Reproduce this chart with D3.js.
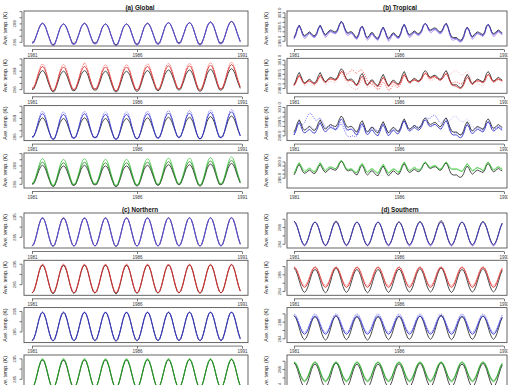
<!DOCTYPE html>
<html>
<head>
<meta charset="utf-8">
<script src="https://cdn.jsdelivr.net/npm/d3@7"></script>
<style>
  body { margin: 0; background: #fff; }
  text { font-family: "Liberation Sans", Arial, sans-serif; }
</style>
</head>
<body>
<svg id="fig" width="508" height="385"></svg>
<script>
// monthly series, Jan 1981 .. Dec 1990
const years = d3.range(120).map(i => 1981 + i / 12);
const xTickYears = [1981, 1986, 1991];
const yTitle = "Ave. temp. (K)";

// ---------- (a) Global ----------
const globalYlim = [285.4, 291.1];
const globalTicks = [286, 287, 288, 289, 290, 291];
const globalLabels = [286, 289];

const globalObs = [
  286.0,286.1,286.7,287.5,288.3,288.9,289.1,288.9,288.3,287.4,286.6,285.9,
  285.6,285.8,286.5,287.4,288.3,288.8,289.0,288.8,288.2,287.4,286.6,285.9,
  285.8,286.0,286.7,287.5,288.4,288.9,289.1,288.9,288.3,287.4,286.6,286.0,
  285.9,286.0,286.6,287.4,288.3,288.8,289.0,288.8,288.2,287.3,286.5,285.8,
  285.6,285.8,286.5,287.4,288.3,288.8,289.0,288.8,288.3,287.4,286.6,285.9,
  285.7,285.9,286.6,287.5,288.4,288.9,289.1,288.9,288.3,287.5,286.7,286.0,
  285.8,286.0,286.7,287.6,288.5,289.0,289.2,289.0,288.4,287.6,286.8,286.1,
  285.9,286.1,286.8,287.6,288.5,289.0,289.2,289.0,288.4,287.5,286.6,285.9,
  285.7,285.9,286.6,287.5,288.5,289.1,289.3,289.1,288.5,287.6,286.7,286.0,
  285.9,286.1,286.8,287.7,288.6,289.2,289.4,289.2,288.6,287.7,286.9,286.2];
const globalBlue = [
  285.9,286.0,286.7,287.5,288.3,288.9,289.1,288.9,288.3,287.4,286.6,285.8,
  285.5,285.7,286.5,287.4,288.3,288.8,289.0,288.8,288.2,287.4,286.6,285.8,
  285.7,285.9,286.7,287.5,288.4,288.9,289.1,288.9,288.3,287.4,286.6,285.9,
  285.8,285.9,286.6,287.4,288.3,288.8,289.0,288.8,288.2,287.3,286.5,285.7,
  285.5,285.7,286.5,287.4,288.3,288.8,289.0,288.8,288.3,287.4,286.6,285.8,
  285.6,285.8,286.6,287.5,288.4,288.9,289.1,288.9,288.3,287.5,286.7,285.9,
  285.7,285.9,286.7,287.6,288.5,289.0,289.2,289.0,288.4,287.6,286.8,286.0,
  285.8,286.0,286.8,287.6,288.5,289.0,289.2,289.0,288.4,287.5,286.6,285.8,
  285.6,285.8,286.6,287.5,288.5,289.1,289.3,289.1,288.5,287.6,286.7,285.9,
  285.8,286.0,286.8,287.7,288.6,289.2,289.4,289.2,288.6,287.7,286.9,286.1];
const globalPurple = [
  285.8,285.9,286.6,287.5,288.3,288.9,289.1,288.9,288.3,287.4,286.5,285.7,
  285.4,285.6,286.4,287.4,288.3,288.8,289.0,288.8,288.2,287.4,286.5,285.7,
  285.6,285.8,286.6,287.5,288.4,288.9,289.1,288.9,288.3,287.4,286.5,285.8,
  285.7,285.8,286.5,287.4,288.3,288.8,289.0,288.8,288.2,287.3,286.4,285.6,
  285.4,285.6,286.4,287.4,288.3,288.8,289.0,288.8,288.3,287.4,286.5,285.7,
  285.5,285.7,286.5,287.5,288.4,288.9,289.1,288.9,288.3,287.5,286.6,285.8,
  285.6,285.8,286.6,287.6,288.5,289.0,289.2,289.0,288.4,287.6,286.7,285.9,
  285.7,285.9,286.7,287.6,288.5,289.0,289.2,289.0,288.4,287.5,286.5,285.7,
  285.5,285.7,286.5,287.5,288.5,289.1,289.3,289.1,288.5,287.6,286.6,285.8,
  285.7,285.9,286.7,287.7,288.6,289.2,289.4,289.2,288.6,287.7,286.8,286.0];
const globalRed = [
  286.2,286.3,287.0,287.9,288.8,289.5,289.8,289.5,288.8,287.8,286.9,286.1,
  285.8,286.0,286.8,287.8,288.8,289.4,289.7,289.4,288.7,287.8,286.9,286.1,
  286.0,286.2,287.0,287.9,288.9,289.5,289.8,289.5,288.8,287.8,286.9,286.2,
  286.1,286.2,286.9,287.8,288.8,289.4,289.7,289.4,288.7,287.7,286.8,286.0,
  285.8,286.0,286.8,287.8,288.8,289.4,289.7,289.4,288.8,287.8,286.9,286.1,
  285.9,286.1,286.9,287.9,288.9,289.5,289.8,289.5,288.8,287.9,287.0,286.2,
  286.0,286.2,287.0,288.0,289.0,289.6,289.9,289.6,288.9,288.0,287.1,286.3,
  286.1,286.3,287.1,288.0,289.0,289.6,289.9,289.6,288.9,287.9,286.9,286.1,
  285.9,286.1,286.9,287.9,289.0,289.7,290.0,289.7,289.0,288.0,287.0,286.2,
  286.1,286.3,287.1,288.1,289.1,289.8,290.1,289.8,289.1,288.1,287.2,286.4];
const globalRedLt = [
  286.2,286.4,287.1,288.1,289.1,289.9,290.2,289.9,289.1,288.0,287.0,286.2,
  285.8,286.1,286.9,288.0,289.1,289.8,290.1,289.8,289.0,288.0,287.0,286.2,
  286.0,286.3,287.1,288.1,289.2,289.9,290.4,289.9,289.1,288.0,287.0,286.3,
  286.1,286.3,287.0,288.0,289.1,289.8,290.1,289.8,289.0,287.9,286.9,286.1,
  285.8,286.1,286.9,288.0,289.1,289.8,290.1,289.8,289.1,288.0,287.0,286.2,
  285.9,286.2,287.0,288.1,289.2,289.9,290.2,289.9,289.1,288.1,287.1,286.3,
  286.0,286.3,287.1,288.2,289.3,290.0,290.3,290.0,289.2,288.2,287.2,286.4,
  286.1,286.4,287.2,288.2,289.3,290.0,290.3,290.0,289.2,288.1,287.0,286.2,
  285.9,286.2,287.0,288.1,289.3,290.1,290.4,290.1,289.3,288.2,287.1,286.3,
  286.1,286.4,287.2,288.3,289.4,290.2,290.5,290.2,289.4,288.3,287.3,286.5];
const globalBlu = [
  286.0,286.1,286.8,287.8,288.8,289.5,289.8,289.5,288.8,287.7,286.7,285.9,
  285.6,285.8,286.6,287.7,288.8,289.4,289.7,289.4,288.7,287.7,286.7,285.9,
  285.8,286.0,286.8,287.8,288.9,289.5,289.8,289.5,288.8,287.7,286.7,286.0,
  285.9,286.0,286.7,287.7,288.8,289.4,289.7,289.4,288.7,287.6,286.6,285.8,
  285.6,285.8,286.6,287.7,288.8,289.4,289.7,289.4,288.8,287.7,286.7,285.9,
  285.7,285.9,286.7,287.8,288.9,289.5,289.8,289.5,288.8,287.8,286.8,286.0,
  285.8,286.0,286.8,287.9,289.0,289.6,289.9,289.6,288.9,287.9,286.9,286.1,
  285.9,286.1,286.9,287.9,289.0,289.6,289.9,289.6,288.9,287.8,286.7,285.9,
  285.7,285.9,286.7,287.8,289.0,289.7,290.0,289.7,289.0,287.9,286.8,286.0,
  285.9,286.1,286.9,288.0,289.1,289.8,290.1,289.8,289.1,288.0,287.0,286.2];
const globalBluLt = [
  285.9,286.0,286.8,287.9,289.0,289.9,290.2,289.9,289.0,287.8,286.7,285.8,
  285.5,285.7,286.6,287.8,289.0,289.8,290.1,289.8,288.9,287.8,286.7,285.8,
  285.7,285.9,286.8,287.9,289.1,289.9,290.2,289.9,289.0,287.8,286.7,285.9,
  285.8,285.9,286.7,287.8,289.0,289.8,290.1,289.8,288.9,287.7,286.6,285.7,
  285.5,285.7,286.6,287.8,289.0,289.8,290.1,289.8,289.0,287.8,286.7,285.8,
  285.6,285.8,286.7,287.9,289.1,289.9,290.2,289.9,289.0,287.9,286.8,285.9,
  285.7,285.9,286.8,288.0,289.2,290.0,290.3,290.0,289.1,288.0,286.9,286.0,
  285.8,286.0,286.9,288.0,289.2,290.0,290.3,290.0,289.1,287.9,286.7,285.8,
  285.6,285.8,286.7,287.9,289.2,290.1,290.4,290.1,289.2,288.0,286.8,285.9,
  285.8,286.0,286.9,288.1,289.3,290.2,290.5,290.2,289.3,288.1,287.0,286.1];
const globalGrn = [
  286.1,286.2,286.9,287.8,288.7,289.4,289.6,289.4,288.7,287.7,286.8,286.0,
  285.7,285.9,286.7,287.7,288.7,289.3,289.5,289.3,288.6,287.7,286.8,286.0,
  285.9,286.1,286.9,287.8,288.8,289.4,289.6,289.4,288.7,287.7,286.8,286.1,
  286.0,286.1,286.8,287.7,288.7,289.3,289.5,289.3,288.6,287.6,286.7,285.9,
  285.7,285.9,286.7,287.7,288.7,289.3,289.5,289.3,288.7,287.7,286.8,286.0,
  285.8,286.0,286.8,287.8,288.8,289.4,289.6,289.4,288.7,287.8,286.9,286.1,
  285.9,286.1,286.9,287.9,288.9,289.5,289.7,289.5,288.8,287.9,287.0,286.2,
  286.0,286.2,287.0,287.9,288.9,289.5,289.7,289.5,288.8,287.8,286.8,286.0,
  285.8,286.0,286.8,287.8,288.9,289.6,289.8,289.6,288.9,287.9,286.9,286.1,
  286.0,286.2,287.0,288.0,289.0,289.7,289.9,289.7,289.0,288.0,287.1,286.3];
const globalGrnLt = [
  286.2,286.4,287.1,288.1,289.1,289.9,290.2,289.9,289.1,288.0,287.0,286.2,
  285.8,286.1,286.9,288.0,289.1,289.8,290.1,289.8,289.0,288.0,287.0,286.2,
  286.0,286.3,287.1,288.1,289.2,289.9,290.2,289.9,289.1,288.0,287.0,286.3,
  286.1,286.3,287.0,288.0,289.1,289.8,290.1,289.8,289.0,287.9,286.9,286.1,
  285.8,286.1,286.9,288.0,289.1,289.8,290.1,289.8,289.1,288.0,287.0,286.2,
  285.9,286.2,287.0,288.1,289.2,289.9,290.2,289.9,289.1,288.1,287.1,286.3,
  286.0,286.3,287.1,288.2,289.3,290.0,290.3,290.0,289.2,288.2,287.2,286.4,
  286.1,286.4,287.2,288.2,289.3,290.0,290.3,290.0,289.2,288.1,287.0,286.2,
  285.9,286.2,287.0,288.1,289.3,290.1,290.4,290.1,289.3,288.2,287.1,286.3,
  286.1,286.4,287.2,288.3,289.4,290.2,290.5,290.2,289.4,288.3,287.3,286.5];

// ---------- (b) Tropical ----------
const tropYlim = [297.5, 301.2];
const tropTicks = [298.0, 298.5, 299.0, 299.5, 300.0, 300.5, 301.0];
const tropLabels = [298.0, 299.5, 301.0];
const tropYlim4 = [296.8, 301.1];
const tropTicks4 = [298.0, 298.5, 299.0, 299.5, 300.0];
const tropLabels4 = [298.0, 300.0];

const tropObs = [
  298.4,298.8,299.4,299.7,299.3,298.8,298.6,298.7,298.9,299.0,298.8,298.6,
  298.6,298.9,299.4,299.7,299.3,298.9,298.7,298.9,299.1,299.2,299.1,299.0,
  299.0,299.3,299.8,300.1,299.9,299.4,299.0,298.9,299.0,299.0,298.8,298.5,
  298.4,298.8,299.4,299.6,299.2,298.6,298.4,298.6,298.9,298.9,298.6,298.4,
  298.3,298.7,299.2,299.5,299.1,298.6,298.3,298.5,298.8,298.9,298.7,298.5,
  298.5,298.9,299.5,299.8,299.4,298.9,298.7,298.8,299.0,299.1,298.9,298.8,
  298.9,299.2,299.7,299.9,299.7,299.3,299.2,299.3,299.4,299.4,299.2,299.0,
  299.0,299.3,299.7,299.9,299.5,298.9,298.5,298.4,298.4,298.4,298.2,298.1,
  298.2,298.6,299.2,299.5,299.2,298.7,298.5,298.7,298.9,299.0,298.9,298.8,
  298.7,299.0,299.6,299.8,299.5,299.0,298.8,298.9,299.1,299.2,299.0,298.9];
const tropBlue = [
  298.3,298.7,299.4,299.7,299.3,298.7,298.5,298.6,298.8,298.9,298.7,298.5,
  298.5,298.8,299.4,299.7,299.3,298.8,298.6,298.8,299.0,299.1,299.0,298.9,
  298.9,299.2,299.8,300.1,299.9,299.3,298.9,298.8,298.9,298.9,298.7,298.4,
  298.3,298.7,299.4,299.6,299.2,298.5,298.3,298.5,298.8,298.8,298.5,298.3,
  298.2,298.6,299.2,299.5,299.1,298.5,298.2,298.4,298.7,298.8,298.6,298.4,
  298.4,298.8,299.5,299.8,299.4,298.8,298.6,298.7,298.9,299.0,298.8,298.7,
  298.8,299.1,299.7,299.9,299.7,299.2,299.1,299.2,299.3,299.3,299.1,298.9,
  298.9,299.2,299.7,299.9,299.5,298.8,298.4,298.3,298.3,298.3,298.1,298.0,
  298.1,298.5,299.2,299.5,299.2,298.6,298.4,298.6,298.8,298.9,298.8,298.7,
  298.6,298.9,299.6,299.8,299.5,298.9,298.7,298.8,299.0,299.1,298.9,298.8];
const tropPurple = [
  298.2,298.6,299.3,299.6,299.2,298.6,298.3,298.4,298.7,298.8,298.6,298.4,
  298.4,298.7,299.3,299.6,299.2,298.7,298.4,298.6,298.9,299.0,298.9,298.8,
  298.8,299.1,299.7,300.0,299.8,299.2,298.7,298.6,298.8,298.8,298.6,298.3,
  298.2,298.6,299.3,299.5,299.1,298.4,298.1,298.3,298.7,298.7,298.4,298.2,
  298.1,298.5,299.1,299.4,299.0,298.4,298.0,298.2,298.6,298.7,298.5,298.3,
  298.3,298.7,299.4,299.7,299.3,298.7,298.4,298.5,298.8,298.9,298.7,298.6,
  298.7,299.0,299.6,299.8,299.6,299.1,298.9,299.0,299.2,299.2,299.0,298.8,
  298.8,299.1,299.6,299.8,299.4,298.7,298.2,298.1,298.2,298.2,298.0,297.9,
  298.0,298.4,299.1,299.4,299.1,298.5,298.2,298.4,298.7,298.8,298.7,298.6,
  298.5,298.8,299.5,299.7,299.4,298.8,298.5,298.6,298.9,299.0,298.8,298.7];
const tropRed = [
  298.3,298.6,299.1,299.4,299.1,298.7,298.5,298.6,298.8,298.8,298.7,298.5,
  298.5,298.7,299.1,299.4,299.1,298.8,298.6,298.8,299.0,299.0,299.0,298.9,
  298.9,299.1,299.5,299.8,299.7,299.3,298.9,298.8,298.9,298.8,298.7,298.4,
  298.3,298.6,299.1,299.3,299.0,298.5,298.3,298.5,298.8,298.7,298.5,298.3,
  298.2,298.5,298.9,299.2,298.9,298.5,298.2,298.4,298.7,298.7,298.6,298.4,
  298.4,298.7,299.2,299.5,299.2,298.8,298.6,298.7,298.9,298.9,298.8,298.7,
  298.8,299.0,299.4,299.6,299.5,299.2,299.1,299.2,299.3,299.2,299.1,298.9,
  298.9,299.1,299.4,299.6,299.3,298.8,298.4,298.3,298.3,298.2,298.1,298.0,
  298.1,298.4,298.9,299.2,299.0,298.6,298.4,298.6,298.8,298.8,298.8,298.7,
  298.6,298.8,299.3,299.5,299.3,298.9,298.7,298.8,299.0,299.0,298.9,298.8];
const tropRedDot = [
  298.4,298.7,299.1,299.4,299.2,298.8,298.5,298.6,298.8,298.8,298.7,298.5,
  298.5,298.7,299.1,299.4,299.2,298.9,298.7,298.8,299.0,299.1,299.0,298.9,
  299.0,299.2,299.5,299.8,299.9,299.7,299.5,299.6,299.8,300.0,299.9,299.7,
  299.6,299.8,300.0,299.9,299.6,299.2,298.8,298.6,298.5,298.4,298.2,298.0,
  297.9,298.0,298.4,298.7,298.5,298.1,297.8,297.9,298.2,298.4,298.3,298.1,
  298.2,298.5,299.0,299.4,299.2,298.8,298.6,298.7,298.9,299.0,298.9,298.8,
  298.9,299.1,299.5,299.7,299.5,299.1,299.0,299.1,299.2,299.2,299.0,298.9,
  298.9,299.1,299.4,299.6,299.3,298.9,298.6,298.6,298.7,298.7,298.6,298.5,
  298.5,298.8,299.2,299.4,299.2,298.8,298.6,298.7,298.8,298.9,298.8,298.7,
  298.7,298.9,299.3,299.5,299.3,298.9,298.7,298.8,298.9,299.0,298.9,298.8];
const tropPinkDot = [
  298.3,298.6,299.0,299.3,299.0,298.6,298.3,298.4,298.6,298.7,298.5,298.3,
  298.3,298.5,298.9,299.2,299.0,298.6,298.4,298.5,298.7,298.8,298.7,298.6,
  298.7,299.0,299.4,299.6,299.4,299.0,298.7,298.5,298.3,298.1,298.0,297.9,
  297.9,298.2,298.7,299.0,298.8,298.4,298.1,298.2,298.4,298.5,298.3,298.1,
  298.0,298.3,298.8,299.1,298.9,298.5,298.2,298.3,298.5,298.6,298.5,298.3,
  298.3,298.6,299.1,299.4,299.2,298.8,298.5,298.6,298.8,298.9,298.8,298.7,
  298.8,299.0,299.4,299.6,299.4,299.0,298.8,298.9,299.0,299.1,299.0,298.9,
  299.0,299.3,299.6,299.8,299.6,299.5,299.6,299.8,299.9,299.9,299.7,299.5,
  299.4,299.5,299.7,299.8,299.5,299.1,298.8,298.7,298.6,298.6,298.4,298.3,
  298.3,298.6,299.1,299.4,299.2,298.8,298.6,298.7,298.8,298.9,298.8,298.6];
const tropBlu = [
  298.1,298.5,299.1,299.4,299.0,298.5,298.3,298.4,298.6,298.7,298.5,298.3,
  298.3,298.6,299.1,299.4,299.0,298.6,298.4,298.6,298.8,298.9,298.8,298.7,
  298.7,299.0,299.5,299.8,299.6,299.1,298.7,298.6,298.7,298.7,298.5,298.2,
  298.1,298.5,299.1,299.3,298.9,298.3,298.1,298.3,298.6,298.6,298.3,298.1,
  298.0,298.4,298.9,299.2,298.8,298.3,298.0,298.2,298.5,298.6,298.4,298.2,
  298.3,298.7,299.3,299.6,299.2,298.7,298.5,298.6,298.8,298.9,298.7,298.6,
  298.7,299.0,299.5,299.7,299.5,299.1,299.0,299.1,299.2,299.2,299.0,298.8,
  298.7,299.0,299.4,299.6,299.2,298.6,298.2,298.1,298.1,298.1,297.9,297.8,
  297.9,298.3,298.9,299.2,298.9,298.4,298.2,298.4,298.6,298.7,298.6,298.5,
  298.4,298.7,299.3,299.5,299.2,298.7,298.5,298.6,298.8,298.9,298.7,298.6];
const tropBluDot = [
  298.1,298.5,299.1,299.5,299.3,299.2,299.4,299.8,300.2,300.4,300.3,300.0,
  299.7,299.6,299.8,299.9,299.6,299.2,298.9,298.9,299.0,299.1,299.0,298.8,
  298.6,298.8,299.1,299.3,299.0,298.5,298.1,297.9,297.9,298.0,298.0,297.9,
  298.0,298.3,298.8,299.1,298.9,298.5,298.3,298.5,298.8,298.9,298.8,298.6,
  298.5,298.7,299.1,299.4,299.1,298.6,298.3,298.4,298.6,298.7,298.6,298.5,
  298.5,298.8,299.3,299.6,299.3,298.9,298.7,298.8,299.0,299.1,299.0,298.9,
  299.0,299.3,299.7,299.9,299.9,299.8,299.9,300.1,300.2,300.1,299.8,299.5,
  299.3,299.5,299.8,299.9,299.5,299.0,298.6,298.4,298.3,298.3,298.2,298.1,
  298.1,298.4,298.9,299.3,299.1,298.7,298.5,298.6,298.8,298.9,298.8,298.7,
  298.6,298.8,299.3,299.5,299.3,298.9,298.7,298.8,298.9,299.0,298.9,298.7];
const tropBluLt = [
  298.3,298.7,299.3,299.6,299.3,298.9,298.7,298.8,299.0,299.1,299.0,298.8,
  298.7,298.9,299.3,299.6,299.3,298.9,298.7,298.8,299.0,299.0,298.9,298.7,
  298.6,298.8,299.2,299.5,299.2,298.8,298.6,298.7,298.8,298.9,298.7,298.5,
  298.4,298.7,299.1,299.4,299.1,298.7,298.5,298.6,298.8,298.8,298.7,298.5,
  298.4,298.7,299.1,299.4,299.1,298.7,298.5,298.6,298.8,298.9,298.8,298.6,
  298.6,298.9,299.3,299.6,299.3,298.9,298.7,298.8,299.0,299.1,299.0,298.9,
  298.9,299.1,299.5,299.7,299.5,299.1,298.9,299.0,299.1,299.2,299.0,298.9,
  299.0,299.2,299.5,299.7,299.6,299.6,299.8,300.0,300.1,300.0,299.8,299.6,
  299.5,299.5,299.7,299.8,299.6,299.2,298.9,298.8,298.8,298.8,298.7,298.6,
  298.6,298.8,299.2,299.5,299.3,298.9,298.7,298.8,298.9,299.0,298.9,298.7];
const tropGrn = [
  298.6,299.0,299.6,299.9,299.5,299.0,298.8,298.9,299.1,299.2,299.0,298.8,
  298.8,299.1,299.6,299.9,299.5,299.1,298.9,299.1,299.3,299.4,299.3,299.2,
  299.2,299.5,300.0,300.2,300.0,299.5,299.1,299.0,299.1,299.1,298.9,298.7,
  298.7,299.1,299.6,299.8,299.4,298.9,298.7,298.9,299.1,299.1,298.9,298.7,
  298.6,299.0,299.4,299.7,299.3,298.9,298.6,298.8,299.0,299.1,299.0,298.8,
  298.7,299.1,299.7,300.0,299.6,299.1,298.9,299.0,299.2,299.3,299.1,299.0,
  299.0,299.3,299.8,300.0,299.8,299.4,299.3,299.4,299.5,299.5,299.3,299.1,
  299.1,299.4,299.8,300.0,299.7,299.3,299.1,299.1,299.1,299.1,299.0,298.9,
  298.8,299.1,299.5,299.8,299.5,299.1,298.9,299.0,299.2,299.3,299.2,299.1,
  298.9,299.2,299.8,300.0,299.7,299.2,299.0,299.1,299.3,299.4,299.2,299.1];
const tropGrnLt = [
  298.7,299.1,299.6,299.9,299.6,299.2,299.0,299.0,299.2,299.3,299.1,298.9,
  298.9,299.2,299.6,299.9,299.6,299.2,299.0,299.2,299.4,299.4,299.3,299.2,
  299.2,299.4,299.9,300.1,299.9,299.5,299.2,299.1,299.2,299.2,299.0,298.8,
  298.8,299.1,299.6,299.8,299.5,299.0,298.8,299.0,299.2,299.2,299.0,298.8,
  298.7,299.0,299.4,299.7,299.4,299.0,298.7,298.9,299.1,299.2,299.1,298.9,
  298.8,299.2,299.7,299.9,299.6,299.2,299.0,299.1,299.3,299.4,299.2,299.1,
  299.1,299.3,299.7,299.9,299.8,299.5,299.4,299.5,299.6,299.6,299.4,299.2,
  299.2,299.4,299.8,299.9,299.7,299.4,299.2,299.2,299.2,299.2,299.1,299.0,
  298.9,299.1,299.5,299.7,299.5,299.2,299.0,299.1,299.3,299.3,299.2,299.1,
  299.0,299.2,299.7,299.9,299.7,299.3,299.1,299.2,299.4,299.4,299.3,299.2];

// ---------- (c) Northern ----------
const northYlim = [279.8, 296.9];
const northTicks = [285, 290, 295];
const northLabels = [285, 295];

const northObs = [
  281.0,281.7,284.2,287.6,291.1,293.6,294.5,293.6,291.1,287.6,284.2,281.5,
  280.5,281.4,284.0,287.5,291.0,293.5,294.4,293.5,291.0,287.5,284.1,281.5,
  280.7,281.6,284.2,287.6,291.1,293.6,294.5,293.6,291.1,287.6,284.2,281.6,
  280.8,281.7,284.3,287.7,291.1,293.6,294.5,293.6,291.1,287.6,284.2,281.5,
  280.4,281.3,284.0,287.5,291.1,293.6,294.5,293.6,291.1,287.6,284.2,281.6,
  280.7,281.6,284.2,287.7,291.2,293.7,294.6,293.7,291.2,287.7,284.3,281.7,
  280.8,281.7,284.3,287.8,291.3,293.7,294.6,293.7,291.2,287.7,284.3,281.7,
  280.9,281.8,284.4,287.8,291.3,293.8,294.7,293.8,291.3,287.7,284.2,281.6,
  280.7,281.6,284.3,287.8,291.3,293.8,294.7,293.8,291.3,287.8,284.4,281.8,
  280.9,281.8,284.5,288.0,291.4,293.9,294.8,293.9,291.4,287.9,284.5,281.9];
const northBlue = [
  280.7,281.6,284.2,287.6,291.1,293.7,294.6,293.7,291.1,287.6,284.2,281.6,
  280.7,281.6,284.2,287.6,291.1,293.7,294.6,293.7,291.1,287.6,284.2,281.6,
  280.7,281.6,284.2,287.6,291.1,293.7,294.6,293.7,291.1,287.6,284.2,281.6,
  280.7,281.6,284.2,287.6,291.1,293.7,294.6,293.7,291.1,287.6,284.2,281.6,
  280.7,281.6,284.2,287.6,291.1,293.7,294.6,293.7,291.1,287.6,284.2,281.6,
  280.7,281.6,284.2,287.6,291.1,293.7,294.6,293.7,291.1,287.6,284.2,281.6,
  280.7,281.6,284.2,287.6,291.1,293.7,294.6,293.7,291.1,287.6,284.2,281.6,
  280.7,281.6,284.2,287.6,291.1,293.7,294.6,293.7,291.1,287.6,284.2,281.6,
  280.7,281.6,284.2,287.6,291.1,293.7,294.6,293.7,291.1,287.6,284.2,281.6,
  280.7,281.6,284.2,287.6,291.1,293.7,294.6,293.7,291.1,287.6,284.2,281.6];
const northPurple = [
  280.6,281.5,284.2,287.6,291.1,293.8,294.9,293.8,291.1,287.6,284.2,281.5,
  280.6,281.5,284.2,287.6,291.1,293.8,294.8,293.8,291.1,287.6,284.2,281.5,
  280.6,281.5,284.2,287.6,291.1,293.8,294.8,293.8,291.1,287.6,284.2,281.5,
  280.6,281.5,284.2,287.6,291.1,293.8,294.8,293.8,291.1,287.6,284.2,281.5,
  280.6,281.5,284.2,287.6,291.1,293.8,294.8,293.8,291.1,287.6,284.2,281.5,
  280.6,281.5,284.2,287.6,291.1,293.8,294.8,293.8,291.1,287.6,284.2,281.5,
  280.6,281.5,284.2,287.6,291.1,293.8,294.8,293.8,291.1,287.6,284.2,281.5,
  280.6,281.5,284.2,287.6,291.1,293.8,294.8,293.8,291.1,287.6,284.2,281.5,
  280.6,281.5,284.2,287.6,291.1,293.8,294.8,293.8,291.1,287.6,284.2,281.5,
  280.6,281.5,284.2,287.6,291.1,293.8,294.8,293.8,291.1,287.6,284.2,281.5];
const northRed = [
  280.9,281.8,284.3,287.7,291.3,293.9,294.8,293.9,291.3,287.7,284.3,281.8,
  280.9,281.8,284.3,287.7,291.3,293.9,294.8,293.9,291.3,287.7,284.3,281.8,
  280.9,281.8,284.3,287.7,291.3,293.9,294.8,293.9,291.3,287.7,284.3,281.8,
  280.9,281.8,284.3,287.7,291.3,293.9,294.8,293.9,291.3,287.7,284.3,281.8,
  280.9,281.8,284.3,287.7,291.3,293.9,294.8,293.9,291.3,287.7,284.3,281.8,
  280.9,281.8,284.3,287.7,291.3,293.9,294.8,293.9,291.3,287.7,284.3,281.8,
  280.9,281.8,284.3,287.7,291.3,293.9,294.8,293.9,291.3,287.7,284.3,281.8,
  280.9,281.8,284.3,287.7,291.3,293.9,294.8,293.9,291.3,287.7,284.3,281.8,
  280.9,281.8,284.3,287.7,291.3,293.9,294.8,293.9,291.3,287.7,284.3,281.8,
  280.9,281.8,284.3,287.7,291.3,293.9,294.8,293.9,291.3,287.7,284.3,281.8];
const northRedLt = [
  281.1,282.0,284.5,287.9,291.5,294.2,295.2,294.2,291.5,287.9,284.5,282.0,
  281.1,282.0,284.5,287.9,291.5,294.2,295.2,294.2,291.5,287.9,284.5,282.0,
  281.1,282.0,284.5,287.9,291.5,294.2,295.2,294.2,291.5,287.9,284.5,282.0,
  281.1,282.0,284.5,287.9,291.5,294.2,295.2,294.2,291.5,287.9,284.5,282.0,
  281.1,282.0,284.5,287.9,291.5,294.2,295.2,294.2,291.5,287.9,284.5,282.0,
  281.1,282.0,284.5,287.9,291.5,294.2,295.2,294.2,291.5,287.9,284.5,282.0,
  281.1,282.0,284.5,287.9,291.5,294.2,295.2,294.2,291.5,287.9,284.5,282.0,
  281.1,282.0,284.5,287.9,291.5,294.2,295.2,294.2,291.5,287.9,284.5,282.0,
  281.1,282.0,284.5,287.9,291.5,294.2,295.2,294.2,291.5,287.9,284.5,282.0,
  281.1,282.0,284.5,287.9,291.5,294.2,295.2,294.2,291.5,287.9,284.5,282.0];
const northBlu = [
  280.7,281.6,284.2,287.6,291.2,293.8,294.7,293.8,291.2,287.6,284.2,281.6,
  280.7,281.6,284.2,287.6,291.2,293.8,294.7,293.8,291.2,287.6,284.2,281.6,
  280.7,281.6,284.2,287.6,291.2,293.8,294.7,293.8,291.2,287.6,284.2,281.6,
  280.7,281.6,284.2,287.6,291.2,293.8,294.7,293.8,291.2,287.6,284.2,281.6,
  280.7,281.6,284.2,287.6,291.2,293.8,294.7,293.8,291.2,287.6,284.2,281.6,
  280.7,281.6,284.2,287.6,291.2,293.8,294.7,293.8,291.2,287.6,284.2,281.6,
  280.7,281.6,284.2,287.6,291.2,293.8,294.7,293.8,291.2,287.6,284.2,281.6,
  280.7,281.6,284.2,287.6,291.2,293.8,294.7,293.8,291.2,287.6,284.2,281.6,
  280.7,281.6,284.2,287.6,291.2,293.8,294.7,293.8,291.2,287.6,284.2,281.6,
  280.7,281.6,284.2,287.6,291.2,293.8,294.7,293.8,291.2,287.6,284.2,281.6];
const northBluLt = [
  280.5,281.4,284.1,287.6,291.3,294.0,295.0,294.0,291.3,287.6,284.1,281.4,
  280.5,281.4,284.1,287.6,291.3,294.0,295.0,294.0,291.3,287.6,284.1,281.4,
  280.5,281.4,284.1,287.6,291.3,294.0,295.0,294.0,291.3,287.6,284.1,281.4,
  280.5,281.4,284.1,287.6,291.3,294.0,295.0,294.0,291.3,287.6,284.1,281.4,
  280.5,281.4,284.1,287.6,291.3,294.0,295.0,294.0,291.3,287.6,284.1,281.4,
  280.5,281.4,284.1,287.6,291.3,294.0,295.0,294.0,291.3,287.6,284.1,281.4,
  280.5,281.4,284.1,287.6,291.3,294.0,295.0,294.0,291.3,287.6,284.1,281.4,
  280.5,281.4,284.1,287.6,291.3,294.0,295.0,294.0,291.3,287.6,284.1,281.4,
  280.5,281.4,284.1,287.6,291.3,294.0,295.0,294.0,291.3,287.6,284.1,281.4,
  280.5,281.4,284.1,287.6,291.3,294.0,295.0,294.0,291.3,287.6,284.1,281.4];
const northGrn = [
  280.7,281.6,284.2,287.7,291.2,293.8,294.7,293.8,291.2,287.7,284.2,281.6,
  280.7,281.6,284.2,287.7,291.2,293.8,294.7,293.8,291.2,287.7,284.2,281.6,
  280.7,281.6,284.2,287.7,291.2,293.8,294.7,293.8,291.2,287.7,284.2,281.6,
  280.7,281.6,284.2,287.7,291.2,293.8,294.7,293.8,291.2,287.7,284.2,281.6,
  280.7,281.6,284.2,287.7,291.2,293.8,294.7,293.8,291.2,287.7,284.2,281.6,
  280.7,281.6,284.2,287.7,291.2,293.8,294.7,293.8,291.2,287.7,284.2,281.6,
  280.7,281.6,284.2,287.7,291.2,293.8,294.7,293.8,291.2,287.7,284.2,281.6,
  280.7,281.6,284.2,287.7,291.2,293.8,294.7,293.8,291.2,287.7,284.2,281.6,
  280.7,281.6,284.2,287.7,291.2,293.8,294.7,293.8,291.2,287.7,284.2,281.6,
  280.7,281.6,284.2,287.7,291.2,293.8,294.7,293.8,291.2,287.7,284.2,281.6];
const northGrnLt = [
  281.0,281.9,284.5,288.0,291.6,294.3,295.3,294.3,291.6,288.0,284.5,281.9,
  281.0,281.9,284.5,288.0,291.6,294.3,295.3,294.3,291.6,288.0,284.5,281.9,
  281.0,281.9,284.5,288.0,291.6,294.3,295.3,294.3,291.6,288.0,284.5,281.9,
  281.0,281.9,284.5,288.0,291.6,294.3,295.3,294.3,291.6,288.0,284.5,281.9,
  281.0,281.9,284.5,288.0,291.6,294.3,295.3,294.3,291.6,288.0,284.5,281.9,
  281.0,281.9,284.5,288.0,291.6,294.3,295.3,294.3,291.6,288.0,284.5,281.9,
  281.0,281.9,284.5,288.0,291.6,294.3,295.3,294.3,291.6,288.0,284.5,281.9,
  281.0,281.9,284.5,288.0,291.6,294.3,295.3,294.3,291.6,288.0,284.5,281.9,
  281.0,281.9,284.5,288.0,291.6,294.3,295.3,294.3,291.6,288.0,284.5,281.9,
  281.0,281.9,284.5,288.0,291.6,294.3,295.3,294.3,291.6,288.0,284.5,281.9];

// ---------- (d) Southern ----------
const southYlim = [283.1, 291.5];
const southTicks = [284, 286, 288, 290];
const southLabels = [284, 288];

const southObs = [
  289.6,289.1,288.0,286.6,285.2,284.2,283.8,284.2,285.2,286.6,288.0,289.0,
  289.3,289.0,288.0,286.6,285.1,284.1,283.7,284.1,285.2,286.6,288.1,289.2,
  289.6,289.2,288.1,286.7,285.2,284.2,283.8,284.2,285.2,286.6,288.0,289.0,
  289.3,288.9,287.9,286.5,285.1,284.1,283.7,284.1,285.1,286.5,287.9,288.9,
  289.3,289.0,288.0,286.6,285.2,284.2,283.8,284.2,285.2,286.6,288.0,289.0,
  289.4,289.0,288.0,286.6,285.2,284.2,283.9,284.3,285.3,286.7,288.1,289.1,
  289.5,289.1,288.1,286.7,285.3,284.3,283.9,284.3,285.3,286.7,288.1,289.2,
  289.7,289.3,288.2,286.8,285.3,284.2,283.8,284.2,285.2,286.6,288.0,289.0,
  289.3,289.0,288.0,286.6,285.2,284.2,283.9,284.3,285.3,286.7,288.1,289.1,
  289.5,289.1,288.1,286.7,285.3,284.3,283.9,284.3,285.3,286.7,288.1,289.1];
const southBlue = [
  289.5,289.1,288.0,286.6,285.2,284.2,283.8,284.2,285.2,286.6,288.0,289.0,
  289.4,289.0,288.0,286.6,285.2,284.2,283.8,284.2,285.2,286.6,288.0,289.0,
  289.4,289.0,288.0,286.6,285.2,284.2,283.8,284.2,285.2,286.6,288.0,289.0,
  289.4,289.0,288.0,286.6,285.2,284.2,283.8,284.2,285.2,286.6,288.0,289.0,
  289.4,289.0,288.0,286.6,285.2,284.2,283.8,284.2,285.2,286.6,288.0,289.0,
  289.4,289.0,288.0,286.6,285.2,284.2,283.8,284.2,285.2,286.6,288.0,289.0,
  289.4,289.0,288.0,286.6,285.2,284.2,283.8,284.2,285.2,286.6,288.0,289.0,
  289.4,289.0,288.0,286.6,285.2,284.2,283.8,284.2,285.2,286.6,288.0,289.0,
  289.4,289.0,288.0,286.6,285.2,284.2,283.8,284.2,285.2,286.6,288.0,289.0,
  289.4,289.0,288.0,286.6,285.2,284.2,283.8,284.2,285.2,286.6,288.0,289.0];
const southPurple = [
  289.3,288.9,288.0,286.6,285.1,284.0,283.5,284.0,285.1,286.6,288.0,288.9,
  289.3,288.9,288.0,286.6,285.1,284.0,283.5,284.0,285.1,286.6,288.0,288.9,
  289.3,288.9,288.0,286.6,285.1,284.0,283.5,284.0,285.1,286.6,288.0,288.9,
  289.3,288.9,288.0,286.6,285.1,284.0,283.5,284.0,285.1,286.6,288.0,288.9,
  289.3,288.9,288.0,286.6,285.1,284.0,283.5,284.0,285.1,286.6,288.0,288.9,
  289.3,288.9,288.0,286.6,285.1,284.0,283.5,284.0,285.1,286.6,288.0,288.9,
  289.3,288.9,288.0,286.6,285.1,284.0,283.5,284.0,285.1,286.6,288.0,288.9,
  289.3,288.9,288.0,286.6,285.1,284.0,283.5,284.0,285.1,286.6,288.0,288.9,
  289.3,288.9,288.0,286.6,285.1,284.0,283.5,284.0,285.1,286.6,288.0,288.9,
  289.3,288.9,288.0,286.6,285.1,284.0,283.5,284.0,285.1,286.6,288.0,288.9];
const southRed = [
  289.8,289.5,288.6,287.4,286.2,285.3,285.0,285.3,286.2,287.4,288.6,289.5,
  289.8,289.5,288.6,287.4,286.2,285.3,285.0,285.3,286.2,287.4,288.6,289.5,
  289.8,289.5,288.6,287.4,286.2,285.3,285.0,285.3,286.2,287.4,288.6,289.5,
  289.8,289.5,288.6,287.4,286.2,285.3,285.0,285.3,286.2,287.4,288.6,289.5,
  289.8,289.5,288.6,287.4,286.2,285.3,285.0,285.3,286.2,287.4,288.6,289.5,
  289.8,289.5,288.6,287.4,286.2,285.3,285.0,285.3,286.2,287.4,288.6,289.5,
  289.8,289.5,288.6,287.4,286.2,285.3,285.0,285.3,286.2,287.4,288.6,289.5,
  289.8,289.5,288.6,287.4,286.2,285.3,285.0,285.3,286.2,287.4,288.6,289.5,
  289.8,289.5,288.6,287.4,286.2,285.3,285.0,285.3,286.2,287.4,288.6,289.5,
  289.8,289.5,288.6,287.4,286.2,285.3,285.0,285.3,286.2,287.4,288.6,289.5];
const southRedLt = [
  290.0,289.7,288.9,287.7,286.5,285.7,285.4,285.7,286.5,287.7,288.9,289.7,
  290.0,289.7,288.9,287.7,286.5,285.7,285.4,285.7,286.5,287.7,288.9,289.7,
  290.0,289.7,288.9,287.7,286.5,285.7,285.4,285.7,286.5,287.7,288.9,289.7,
  290.0,289.7,288.9,287.7,286.5,285.7,285.4,285.7,286.5,287.7,288.9,289.7,
  290.0,289.7,288.9,287.7,286.5,285.7,285.4,285.7,286.5,287.7,288.9,289.7,
  290.0,289.7,288.9,287.7,286.5,285.7,285.4,285.7,286.5,287.7,288.9,289.7,
  290.0,289.7,288.9,287.7,286.5,285.7,285.4,285.7,286.5,287.7,288.9,289.7,
  290.0,289.7,288.9,287.7,286.5,285.7,285.4,285.7,286.5,287.7,288.9,289.7,
  290.0,289.7,288.9,287.7,286.5,285.7,285.4,285.7,286.5,287.7,288.9,289.7,
  290.0,289.7,288.9,287.7,286.5,285.7,285.4,285.7,286.5,287.7,288.9,289.7];
const southBlu = [
  289.5,289.2,288.4,287.3,286.2,285.4,285.1,285.4,286.2,287.3,288.4,289.2,
  289.5,289.2,288.4,287.3,286.2,285.4,285.1,285.4,286.2,287.3,288.4,289.2,
  289.5,289.2,288.4,287.3,286.2,285.4,285.1,285.4,286.2,287.3,288.4,289.2,
  289.5,289.2,288.4,287.3,286.2,285.4,285.1,285.4,286.2,287.3,288.4,289.2,
  289.5,289.2,288.4,287.3,286.2,285.4,285.1,285.4,286.2,287.3,288.4,289.2,
  289.5,289.2,288.4,287.3,286.2,285.4,285.1,285.4,286.2,287.3,288.4,289.2,
  289.5,289.2,288.4,287.3,286.2,285.4,285.1,285.4,286.2,287.3,288.4,289.2,
  289.5,289.2,288.4,287.3,286.2,285.4,285.1,285.4,286.2,287.3,288.4,289.2,
  289.5,289.2,288.4,287.3,286.2,285.4,285.1,285.4,286.2,287.3,288.4,289.2,
  289.5,289.2,288.4,287.3,286.2,285.4,285.1,285.4,286.2,287.3,288.4,289.2];
const southBluLt = [
  290.0,289.7,288.9,287.7,286.6,285.8,285.5,285.8,286.6,287.7,288.9,289.7,
  290.0,289.7,288.9,287.7,286.6,285.8,285.5,285.8,286.6,287.7,288.9,289.7,
  290.0,289.7,288.9,287.7,286.6,285.8,285.5,285.8,286.6,287.7,288.9,289.7,
  290.0,289.7,288.9,287.7,286.6,285.8,285.5,285.8,286.6,287.7,288.9,289.7,
  290.0,289.7,288.9,287.7,286.6,285.8,285.5,285.8,286.6,287.7,288.9,289.7,
  290.0,289.7,288.9,287.7,286.6,285.8,285.5,285.8,286.6,287.7,288.9,289.7,
  290.0,289.7,288.9,287.7,286.6,285.8,285.5,285.8,286.6,287.7,288.9,289.7,
  290.0,289.7,288.9,287.7,286.6,285.8,285.5,285.8,286.6,287.7,288.9,289.7,
  290.0,289.7,288.9,287.7,286.6,285.8,285.5,285.8,286.6,287.7,288.9,289.7,
  290.0,289.7,288.9,287.7,286.6,285.8,285.5,285.8,286.6,287.7,288.9,289.7];
const southGrn = [
  289.7,289.4,288.6,287.4,286.2,285.4,285.1,285.4,286.2,287.4,288.6,289.4,
  289.7,289.4,288.6,287.4,286.2,285.4,285.1,285.4,286.2,287.4,288.6,289.4,
  289.7,289.4,288.6,287.4,286.2,285.4,285.1,285.4,286.2,287.4,288.6,289.4,
  289.7,289.4,288.6,287.4,286.2,285.4,285.1,285.4,286.2,287.4,288.6,289.4,
  289.7,289.4,288.6,287.4,286.2,285.4,285.1,285.4,286.2,287.4,288.6,289.4,
  289.7,289.4,288.6,287.4,286.2,285.4,285.1,285.4,286.2,287.4,288.6,289.4,
  289.7,289.4,288.6,287.4,286.2,285.4,285.1,285.4,286.2,287.4,288.6,289.4,
  289.7,289.4,288.6,287.4,286.2,285.4,285.1,285.4,286.2,287.4,288.6,289.4,
  289.7,289.4,288.6,287.4,286.2,285.4,285.1,285.4,286.2,287.4,288.6,289.4,
  289.7,289.4,288.6,287.4,286.2,285.4,285.1,285.4,286.2,287.4,288.6,289.4];
const southGrnLt = [
  289.9,289.6,288.8,287.6,286.5,285.7,285.4,285.7,286.5,287.6,288.8,289.6,
  289.9,289.6,288.8,287.6,286.5,285.7,285.4,285.7,286.5,287.6,288.8,289.6,
  289.9,289.6,288.8,287.6,286.5,285.7,285.4,285.7,286.5,287.6,288.8,289.6,
  289.9,289.6,288.8,287.6,286.5,285.7,285.4,285.7,286.5,287.6,288.8,289.6,
  289.9,289.6,288.8,287.6,286.5,285.7,285.4,285.7,286.5,287.6,288.8,289.6,
  289.9,289.6,288.8,287.6,286.5,285.7,285.4,285.7,286.5,287.6,288.8,289.6,
  289.9,289.6,288.8,287.6,286.5,285.7,285.4,285.7,286.5,287.6,288.8,289.6,
  289.9,289.6,288.8,287.6,286.5,285.7,285.4,285.7,286.5,287.6,288.8,289.6,
  289.9,289.6,288.8,287.6,286.5,285.7,285.4,285.7,286.5,287.6,288.8,289.6,
  289.9,289.6,288.8,287.6,286.5,285.7,285.4,285.7,286.5,287.6,288.8,289.6];

// ---------- styles & layout ----------
const styles = {
  obs:     {c: "#1e1e1e", w: 0.8},
  blue:    {c: "#4040d0", w: 0.8},
  purple:  {c: "#a87ae6", w: 0.8},
  red:     {c: "#cf2020", w: 0.8},
  redLt:   {c: "#ff6868", w: 0.8, dash: "2,0.8"},
  redDot:  {c: "#ff2a2a", w: 0.8, dash: "1,1.3"},
  pinkDot: {c: "#f0a8a8", w: 0.8, dash: "1,1.3"},
  blu:     {c: "#2424c0", w: 0.8},
  bluLt:   {c: "#7878ff", w: 0.8, dash: "2,0.8"},
  bluDot:  {c: "#4444ff", w: 0.8, dash: "1,1.3"},
  bluPale: {c: "#aaaaff", w: 0.8, dash: "1,1.3"},
  grn:     {c: "#1b8a1b", w: 0.8},
  grnLt:   {c: "#48cc48", w: 0.8},
  grnBr:   {c: "#30c030", w: 0.8},
  grnPale: {c: "#9ae69a", w: 0.8}
};

const boxH = 35;
const cols = [
  {boxL: 24, boxR: 248, x0: 32, x1: 242, axisX: 22, labX: 14.5, titleX: 5, mainX: 140},
  {boxL: 287, boxR: 507, x0: 294, x1: 504, axisX: 285, labX: 279.5, titleX: 266, mainX: 400}
];
const rowTops = [[11, 58.3, 105.6, 153], [213, 260.3, 307.6, 355]];

const panels = [
  {title: "(a) Global", col: 0, row: 0, subs: [
    {ylim: globalYlim, ticks: globalTicks, labels: globalLabels,
     series: [["obs", globalObs], ["purple", globalPurple], ["blue", globalBlue]]},
    {ylim: globalYlim, ticks: globalTicks, labels: globalLabels,
     series: [["obs", globalObs], ["redLt", globalRedLt], ["red", globalRed]]},
    {ylim: globalYlim, ticks: globalTicks, labels: globalLabels,
     series: [["obs", globalObs], ["bluLt", globalBluLt], ["blu", globalBlu]]},
    {ylim: globalYlim, ticks: globalTicks, labels: globalLabels,
     series: [["obs", globalObs], ["grnLt", globalGrnLt], ["grn", globalGrn]]}
  ]},
  {title: "(b) Tropical", col: 1, row: 0, subs: [
    {ylim: tropYlim, ticks: tropTicks, labels: tropLabels,
     series: [["purple", tropPurple], ["obs", tropObs], ["blue", tropBlue]]},
    {ylim: tropYlim, ticks: tropTicks, labels: tropLabels,
     series: [["pinkDot", tropPinkDot], ["redDot", tropRedDot], ["obs", tropObs], ["red", tropRed]]},
    {ylim: tropYlim, ticks: tropTicks, labels: tropLabels,
     series: [["bluPale", tropBluLt], ["bluDot", tropBluDot], ["obs", tropObs], ["blu", tropBlu]]},
    {ylim: tropYlim4, ticks: tropTicks4, labels: tropLabels4,
     series: [["grnPale", tropGrnLt], ["obs", tropObs], ["grnBr", tropGrn]]}
  ]},
  {title: "(c) Northern", col: 0, row: 1, subs: [
    {ylim: northYlim, ticks: northTicks, labels: northLabels,
     series: [["obs", northObs], ["purple", northPurple], ["blue", northBlue]]},
    {ylim: northYlim, ticks: northTicks, labels: northLabels,
     series: [["obs", northObs], ["redLt", northRedLt], ["red", northRed]]},
    {ylim: northYlim, ticks: northTicks, labels: northLabels,
     series: [["obs", northObs], ["bluLt", northBluLt], ["blu", northBlu]]},
    {ylim: northYlim, ticks: northTicks, labels: northLabels,
     series: [["obs", northObs], ["grnLt", northGrnLt], ["grn", northGrn]]}
  ]},
  {title: "(d) Southern", col: 1, row: 1, subs: [
    {ylim: southYlim, ticks: southTicks, labels: southLabels,
     series: [["purple", southPurple], ["obs", southObs], ["blue", southBlue]]},
    {ylim: southYlim, ticks: southTicks, labels: southLabels,
     series: [["obs", southObs], ["redLt", southRedLt], ["red", southRed]]},
    {ylim: southYlim, ticks: southTicks, labels: southLabels,
     series: [["obs", southObs], ["bluLt", southBluLt], ["blu", southBlu]]},
    {ylim: southYlim, ticks: southTicks, labels: southLabels,
     series: [["obs", southObs], ["grnLt", southGrnLt], ["grn", southGrn]]}
  ]}
];

const svg = d3.select("#fig");
const fmt1 = d3.format(".1f");

function drawSub(col, top, sub) {
  const x = d3.scaleLinear().domain([1981, 1991]).range([col.x0, col.x1]);
  const y = d3.scaleLinear().domain(sub.ylim).range([top + boxH, top]);
  const g = svg.append("g");

  const line = d3.line()
    .x((d, i) => x(years[i]))
    .y(d => y(d));

  sub.series.forEach(([key, vals]) => {
    const st = styles[key];
    g.append("path")
      .attr("d", line(vals))
      .attr("fill", "none")
      .attr("stroke", st.c)
      .attr("stroke-width", st.w)
      .attr("stroke-dasharray", st.dash || null)
      .attr("stroke-linejoin", "round");
  });

  // plot box
  g.append("rect")
    .attr("x", col.boxL).attr("y", top)
    .attr("width", col.boxR - col.boxL).attr("height", boxH)
    .attr("fill", "none").attr("stroke", "#555").attr("stroke-width", 0.9);

  // x axis (R style, offset below the box)
  const xa = g.append("g")
    .attr("transform", `translate(0,${top + boxH + 3.5})`)
    .call(d3.axisBottom(x).tickValues(xTickYears).tickFormat(d3.format("d"))
      .tickSize(2.5).tickSizeOuter(0).tickPadding(1.5));
  xa.select(".domain").remove();
  xa.append("line")
    .attr("x1", x(xTickYears[0])).attr("x2", x(xTickYears[xTickYears.length - 1]))
    .attr("stroke", "#555").attr("stroke-width", 0.8);
  xa.selectAll(".tick line").attr("stroke", "#555").attr("stroke-width", 0.8);
  xa.selectAll(".tick text").attr("font-size", 4.5).attr("fill", "#333")
    .attr("font-family", "Liberation Sans, Arial, sans-serif");

  // y axis
  const ya = g.append("g").attr("transform", `translate(${col.axisX},0)`);
  ya.append("line")
    .attr("y1", y(sub.ticks[0])).attr("y2", y(sub.ticks[sub.ticks.length - 1]))
    .attr("stroke", "#555").attr("stroke-width", 0.8);
  ya.selectAll("line.tk").data(sub.ticks).join("line")
    .attr("class", "tk")
    .attr("x1", 0).attr("x2", -2.5)
    .attr("y1", d => y(d)).attr("y2", d => y(d))
    .attr("stroke", "#555").attr("stroke-width", 0.8);

  const isDec = sub.ylim[0] > 295;
  svg.append("g").selectAll("text").data(sub.labels).join("text")
    .attr("transform", d => `translate(${col.labX},${y(d)}) rotate(-90)`)
    .attr("text-anchor", "middle").attr("dy", "0.35em")
    .attr("font-size", 4.3).attr("fill", "#333")
    .text(d => isDec ? fmt1(d) : d);

  svg.append("text")
    .attr("transform", `translate(${col.titleX},${top + boxH / 2}) rotate(-90)`)
    .attr("text-anchor", "middle").attr("dy", "0.35em")
    .attr("font-size", 5.2).attr("fill", "#222")
    .text(yTitle);
}

panels.forEach(p => {
  const col = cols[p.col];
  const tops = rowTops[p.row];
  p.subs.forEach((sub, k) => drawSub(col, tops[k], sub));
  svg.append("text")
    .attr("x", col.mainX).attr("y", tops[0] - 1)
    .attr("text-anchor", "middle")
    .attr("font-size", 6.3).attr("font-weight", "bold").attr("fill", "#111")
    .text(p.title);
});
</script>
</body>
</html>
